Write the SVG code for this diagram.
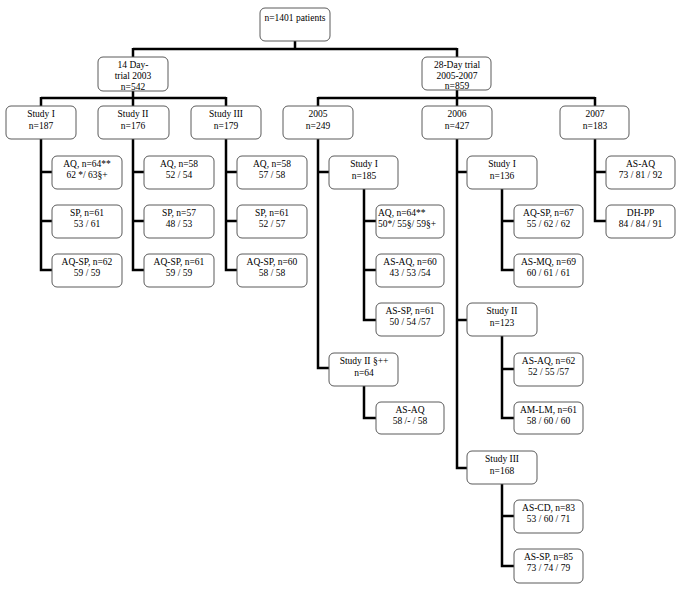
<svg xmlns="http://www.w3.org/2000/svg" width="685" height="593" viewBox="0 0 685 593">
<style>
.b{fill:#fff;stroke:#5a5a5a;stroke-width:1}
text{font-family:"Liberation Serif","Times New Roman",serif;font-size:9.5px;fill:#000;text-anchor:middle}
.l{text-anchor:start}
.c{fill:none;stroke:#000;stroke-width:2.5;stroke-linejoin:miter;stroke-linecap:butt}
</style>
<rect width="685" height="593" fill="#fff"/>
<g id="connectors" class="c">
<path d="M295 41V49M133 49H457M133 48V57M457 48V57"/>
<path d="M133 91V98M41 98H226M41 97V106M133 98V106M226 97V106"/>
<path d="M457 90V98M318 98H595M318 97V106M457 98V106M595 97V106"/>
<path d="M41 139V270H52M41 172H52M41 221H52"/>
<path d="M133 139V270H144M133 172H144M133 221H144"/>
<path d="M226 139V270H237M226 172H237M226 221H237"/>
<path d="M318 139V368H329M318 172H329"/>
<path d="M364 189V320H376M364 221H376M364 270H376"/>
<path d="M364 386V418H376"/>
<path d="M457 139V468H467M457 172H467M457 320H467"/>
<path d="M502 189V270H514M502 221H514"/>
<path d="M502 336V418H514M502 369H514"/>
<path d="M502 484V566H514M502 516H514"/>
<path d="M595 139V221H606M595 172H606"/>
</g>
<g id="root"><rect class="b" x="260" y="8" width="70" height="33" rx="5"/><text x="295" y="20.5">n=1401 patients</text></g>
<g id="trial14"><rect class="b" x="98" y="57" width="70" height="34" rx="5"/><text x="133" y="67.5">14 Day-</text><text x="133" y="78.5">trial 2003</text><text x="133" y="89.5">n=542</text></g>
<g id="trial28"><rect class="b" x="422" y="57" width="69" height="33" rx="5"/><text x="457" y="67.5">28-Day trial</text><text x="457" y="78.5">2005-2007</text><text x="457" y="89">n=859</text></g>

<g id="s1"><rect class="b" x="6" y="106" width="70" height="33" rx="5"/><text x="41" y="116.5">Study I</text><text x="41" y="128.5">n=187</text></g>
<g id="s2"><rect class="b" x="98" y="106" width="71" height="33" rx="5"/><text x="133" y="116.5">Study II</text><text x="133" y="128.5">n=176</text></g>
<g id="s3"><rect class="b" x="191" y="106" width="70" height="33" rx="5"/><text x="226" y="116.5">Study III</text><text x="226" y="128.5">n=179</text></g>
<g id="y2005"><rect class="b" x="283" y="106" width="70" height="33" rx="5"/><text x="318" y="116.5">2005</text><text x="318" y="128.5">n=249</text></g>
<g id="y2006"><rect class="b" x="422" y="106" width="70" height="33" rx="5"/><text x="457" y="116.5">2006</text><text x="457" y="128.5">n=427</text></g>
<g id="y2007"><rect class="b" x="560" y="106" width="69" height="33" rx="5"/><text x="595" y="116.5">2007</text><text x="595" y="128.5">n=183</text></g>

<g id="s1aq"><rect class="b" x="52" y="156" width="70" height="33" rx="5"/><text x="87" y="166.5">AQ, n=64**</text><text x="87" y="178">62 */ 63§+</text></g>
<g id="s1sp"><rect class="b" x="52" y="205" width="70" height="33" rx="5"/><text x="87" y="215.5">SP, n=61</text><text x="87" y="227">53 / 61</text></g>
<g id="s1aqsp"><rect class="b" x="52" y="254" width="70" height="33" rx="5"/><text x="87" y="264.5">AQ-SP, n=62</text><text x="87" y="276">59 / 59</text></g>

<g id="s2aq"><rect class="b" x="144" y="156" width="70" height="33" rx="5"/><text x="179" y="166.5">AQ, n=58</text><text x="179" y="178">52 / 54</text></g>
<g id="s2sp"><rect class="b" x="144" y="205" width="70" height="33" rx="5"/><text x="179" y="215.5">SP, n=57</text><text x="179" y="227">48 / 53</text></g>
<g id="s2aqsp"><rect class="b" x="144" y="254" width="70" height="33" rx="5"/><text x="179" y="264.5">AQ-SP, n=61</text><text x="179" y="276">59 / 59</text></g>

<g id="s3aq"><rect class="b" x="237" y="156" width="70" height="33" rx="5"/><text x="272" y="166.5">AQ, n=58</text><text x="272" y="178">57 / 58</text></g>
<g id="s3sp"><rect class="b" x="237" y="205" width="70" height="33" rx="5"/><text x="272" y="215.5">SP, n=61</text><text x="272" y="227">52 / 57</text></g>
<g id="s3aqsp"><rect class="b" x="237" y="254" width="70" height="33" rx="5"/><text x="272" y="264.5">AQ-SP, n=60</text><text x="272" y="276">58 / 58</text></g>

<g id="y5s1"><rect class="b" x="329" y="156" width="69" height="33" rx="5"/><text x="364" y="166.5">Study I</text><text x="364" y="178.5">n=185</text></g>
<g id="y5s1aq"><rect class="b" x="376" y="205" width="68" height="33" rx="5"/><text class="l" x="378" y="215.5">AQ, n=64**</text><text class="l" x="378" y="227">50*/ 55§/ 59§+</text></g>
<g id="y5s1asaq"><rect class="b" x="376" y="254" width="68" height="33" rx="5"/><text x="410" y="264.5">AS-AQ, n=60</text><text x="410" y="276">43 / 53 /54</text></g>
<g id="y5s1assp"><rect class="b" x="376" y="303" width="68" height="33" rx="5"/><text x="410" y="313.5">AS-SP, n=61</text><text x="410" y="325">50 / 54 /57</text></g>
<g id="y5s2"><rect class="b" x="329" y="353" width="69" height="33" rx="5"/><text x="364" y="363.5">Study II §++</text><text x="364" y="375.5">n=64</text></g>
<g id="y5s2asaq"><rect class="b" x="376" y="402" width="68" height="32" rx="5"/><text x="410" y="412.5">AS-AQ</text><text x="410" y="424">58 /- / 58</text></g>

<g id="y6s1"><rect class="b" x="467" y="156" width="70" height="33" rx="5"/><text x="502" y="166.5">Study I</text><text x="502" y="178.5">n=136</text></g>
<g id="y6s1aqsp"><rect class="b" x="514" y="205" width="69" height="33" rx="5"/><text x="548.5" y="215.5">AQ-SP, n=67</text><text x="548.5" y="227">55 / 62 / 62</text></g>
<g id="y6s1asmq"><rect class="b" x="514" y="254" width="69" height="33" rx="5"/><text x="548.5" y="264.5">AS-MQ, n=69</text><text x="548.5" y="276">60 / 61 / 61</text></g>
<g id="y6s2"><rect class="b" x="467" y="303" width="70" height="33" rx="5"/><text x="502" y="313.5">Study II</text><text x="502" y="325.5">n=123</text></g>
<g id="y6s2asaq"><rect class="b" x="514" y="353" width="69" height="33" rx="5"/><text x="548.5" y="363.5">AS-AQ, n=62</text><text x="548.5" y="375">52 / 55 /57</text></g>
<g id="y6s2amlm"><rect class="b" x="514" y="402" width="69" height="32" rx="5"/><text x="548.5" y="412.5">AM-LM, n=61</text><text x="548.5" y="424">58 / 60 / 60</text></g>
<g id="y6s3"><rect class="b" x="467" y="451" width="70" height="33" rx="5"/><text x="502" y="461.5">Study III</text><text x="502" y="473.5">n=168</text></g>
<g id="y6s3ascd"><rect class="b" x="514" y="500" width="69" height="33" rx="5"/><text x="548.5" y="510.5">AS-CD, n=83</text><text x="548.5" y="522">53 / 60 / 71</text></g>
<g id="y6s3assp"><rect class="b" x="514" y="549" width="69" height="34" rx="5"/><text x="548.5" y="559.5">AS-SP, n=85</text><text x="548.5" y="571">73 / 74 / 79</text></g>

<g id="y7asaq"><rect class="b" x="606" y="156" width="69" height="33" rx="5"/><text x="640.5" y="166.5">AS-AQ</text><text x="640.5" y="178">73 / 81 / 92</text></g>
<g id="y7dhpp"><rect class="b" x="606" y="205" width="69" height="33" rx="5"/><text x="640.5" y="215.5">DH-PP</text><text x="640.5" y="227">84 / 84 / 91</text></g>
</svg>
